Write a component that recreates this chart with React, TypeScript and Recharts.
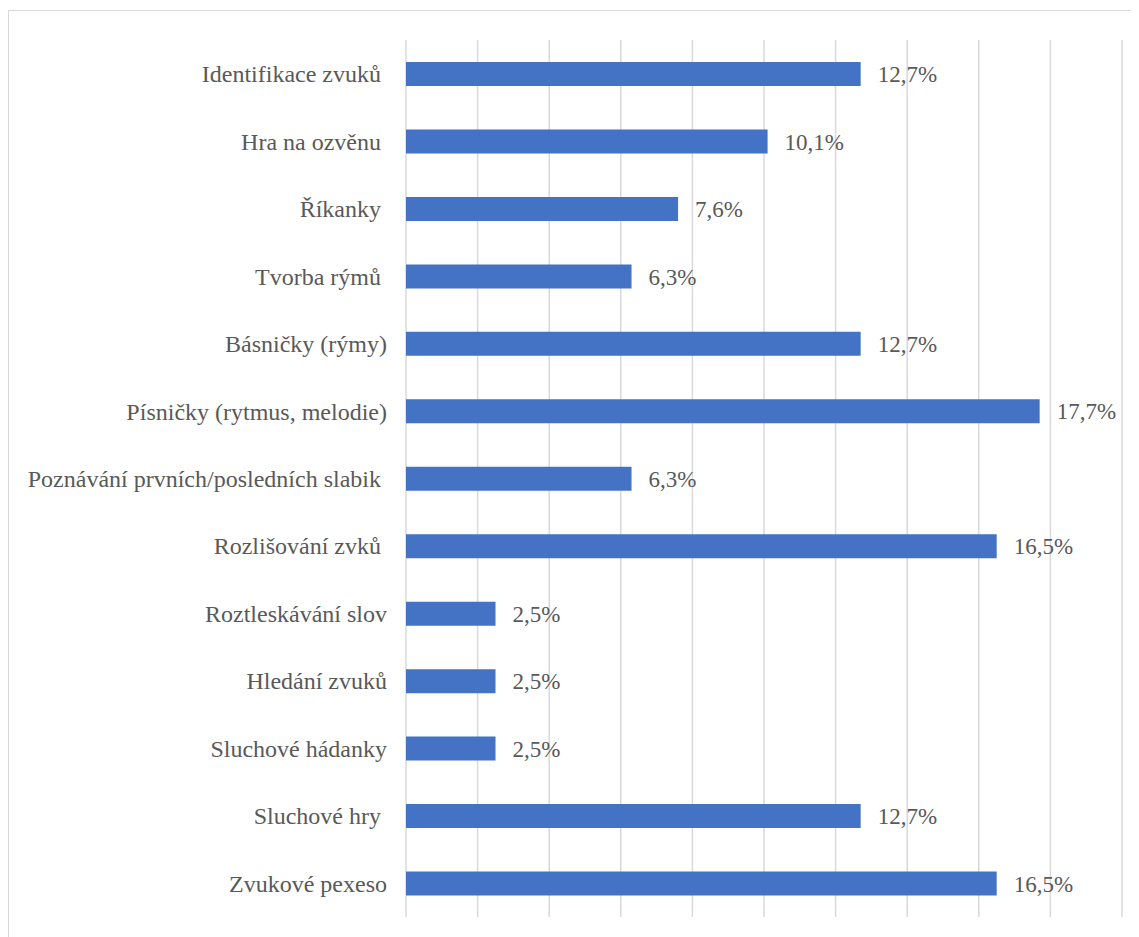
import { BarChart, Bar, XAxis, YAxis, CartesianGrid, LabelList } from "recharts";

// category names as written in the source (some carry a trailing space)
const categories = [
  "Identifikace zvuků ",
  "Hra na ozvěnu ",
  "Říkanky ",
  "Tvorba rýmů ",
  "Básničky (rýmy)",
  "Písničky (rytmus, melodie)",
  "Poznávání prvních/posledních slabik ",
  "Rozlišování zvků ",
  "Roztleskávání slov",
  "Hledání zvuků",
  "Sluchové hádanky",
  "Sluchové hry ",
  "Zvukové pexeso",
];

const shares = [12.7, 10.1, 7.6, 6.3, 12.7, 17.7, 6.3, 16.5, 2.5, 2.5, 2.5, 12.7, 16.5];

const xTicks = [0, 2, 4, 6, 8, 10, 12, 14, 16, 18, 20];

const data = categories.map((name, i) => ({ name, share: shares[i] }));

const TEXT = "#595959";
const FONT = "'Liberation Serif', 'Times New Roman', serif";

function CategoryTick(props: any) {
  const { x, y, payload } = props;
  return (
    <text
      x={x}
      y={y}
      dy="0.355em"
      textAnchor="end"
      fill={TEXT}
      fontSize={24}
      fontFamily={FONT}
      style={{ whiteSpace: "pre" }}
    >
      {payload.value}
    </text>
  );
}

const formatShare = (v: any) => `${Number(v).toFixed(1).replace(".", ",")}%`;

export default function App() {
  return (
    <div
      style={{
        marginTop: 2,
        width: 1140,
        height: 940,
        border: "1px solid #d9d9d9",
        background: "#fff",
        boxSizing: "border-box",
      }}
    >
      <BarChart
        width={1130}
        height={935}
        data={data}
        layout="vertical"
        margin={{ top: 29, right: 17, bottom: 29, left: 0 }}
        barSize={24}
      >
        <CartesianGrid horizontal={false} stroke="#d9d9d9" strokeWidth={1.5} />
        <XAxis type="number" domain={[0, 20]} ticks={xTicks} hide />
        <YAxis
          type="category"
          dataKey="name"
          width={397}
          axisLine={false}
          tickLine={false}
          tickSize={0}
          tickMargin={19}
          tick={<CategoryTick />}
          interval={0}
        />
        <Bar dataKey="share" fill="#4472C4" isAnimationActive={false}>
          <LabelList
            dataKey="share"
            position="right"
            offset={17}
            formatter={formatShare}
            fill={TEXT}
            fontSize={23}
            fontFamily={FONT}
          />
        </Bar>
      </BarChart>
    </div>
  );
}
